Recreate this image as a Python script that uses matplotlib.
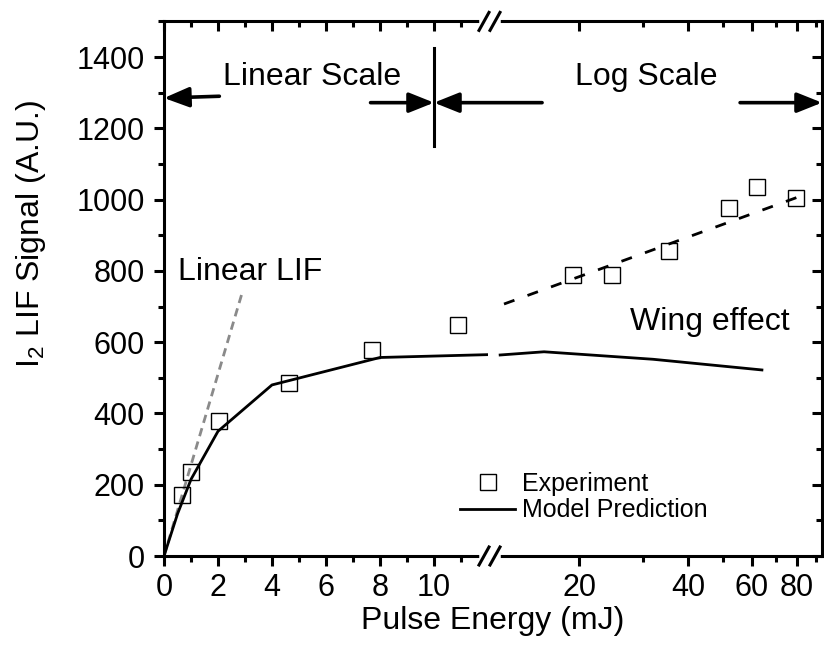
import numpy as np
import matplotlib
matplotlib.use('Agg')
from matplotlib import pyplot as plt
from matplotlib.lines import Line2D
from matplotlib.ticker import FixedLocator, NullFormatter

plt.rcParams['font.family'] = ['Liberation Sans', 'DejaVu Sans']
plt.rcParams['mathtext.fontset'] = 'custom'
plt.rcParams['mathtext.rm'] = 'Liberation Sans'
plt.rcParams['mathtext.it'] = 'Liberation Sans'

# measured LIF signal, linear part (0-12 mJ) and log part (>12 mJ)
exp_lin_x = [0.68, 0.99, 2.04, 4.63, 7.72, 10.9]
exp_lin_y = [170, 237, 378, 486, 577, 648]
exp_log_x = [19.2, 24.7, 35.5, 52.0, 61.9, 79.4]
exp_log_y = [789, 789, 857, 977, 1036, 1005]

# model prediction
model_lin_x = [0, 0.5, 1, 2, 4, 8, 12]
model_lin_y = [0, 118, 215, 350, 480, 557, 565]
model_log_x = [12.1, 16, 32, 64]
model_log_y = [564, 573, 552, 522]

# linear LIF reference line and wing-effect trend
lif_x = [0, 2.9]
lif_y = [0, 740]
wing_x = [12.4, 83]
wing_y = [707, 1012]

lin_ticks = [0, 2, 4, 6, 8, 10]
lin_minor = [1, 3, 5, 7, 9, 11]
log_ticks = [20, 40, 60, 80]
log_minor = [30, 50, 70, 90]
y_ticks = list(range(0, 1401, 200))
y_minor = list(range(100, 1501, 200))

W, H = 824, 645
fig = plt.figure(figsize=(W / 100, H / 100), dpi=100)
x0, xb, x1 = 164, 488, 822
ybot, ytop = 556, 21.4
axL = fig.add_axes([x0 / W, 1 - ybot / H, (xb - x0) / W, (ybot - ytop) / H])
axR = fig.add_axes([xb / W, 1 - ybot / H, (x1 - xb) / W, (ybot - ytop) / H])

axL.set_xlim(0, 12)
axR.set_xscale('log')
axR.set_xlim(11.2, 93.8)
for ax in (axL, axR):
    ax.set_ylim(0, 1500)
    ax.set_facecolor('none')
    for s in ax.spines.values():
        s.set_linewidth(2.2)
axL.spines['right'].set_visible(False)
axR.spines['left'].set_visible(False)

# ticks
axL.xaxis.set_major_locator(FixedLocator(lin_ticks))
axL.xaxis.set_minor_locator(FixedLocator(lin_minor))
axR.xaxis.set_major_locator(FixedLocator(log_ticks))
axR.xaxis.set_minor_locator(FixedLocator(log_minor))
axR.xaxis.set_major_formatter(plt.FixedFormatter([str(t) for t in log_ticks]))
axR.xaxis.set_minor_formatter(NullFormatter())
for ax in (axL, axR):
    ax.yaxis.set_major_locator(FixedLocator(y_ticks))
    ax.yaxis.set_minor_locator(FixedLocator(y_minor))
    ax.tick_params(axis='x', which='both', bottom=True, top=False, direction='out',
                   labelsize=22, pad=5)
    ax.tick_params(axis='both', which='major', length=7, width=2.2)
    ax.tick_params(axis='both', which='minor', length=4, width=2.2)
    ax.xaxis.set_ticks_position('both')
    ax.tick_params(axis='x', which='both', top=True)

# top ticks point inward, bottom outward
for ax in (axL, axR):
    for t in ax.xaxis.get_major_ticks() + ax.xaxis.get_minor_ticks():
        t.tick2line.set_marker(3)

axL.tick_params(axis='y', which='both', left=True, right=False, direction='out',
                labelsize=22, pad=7)
axR.tick_params(axis='y', which='both', left=False, right=True, labelleft=False,
                labelright=False, direction='in')

# data
axL.plot(lif_x, lif_y, color='#8a8a8a', lw=2.0, dashes=(3, 2), zorder=2)
axL.plot(model_lin_x, model_lin_y, color='black', lw=2.0, zorder=3)
axR.plot(model_log_x, model_log_y, color='black', lw=2.0, zorder=3)
axR.plot(wing_x, wing_y, color='black', lw=2.0, dashes=(4, 5), zorder=3)
mk = dict(ls='none', marker='s', ms=11, mfc='none', mec='black', mew=1.0, zorder=4)
axL.plot(exp_lin_x, exp_lin_y, **mk)
axR.plot(exp_log_x, exp_log_y, **mk)

# scale annotations
axL.plot([10, 10], [1150, 1425], color='black', lw=2.2, clip_on=False)
arr = dict(arrowstyle='-|>,head_length=0.8,head_width=0.32', mutation_scale=19,
           lw=2.6, color='black', shrinkA=0, shrinkB=0)
axL.annotate('', xy=(0, 1285), xytext=(2.05, 1290), arrowprops=arr, annotation_clip=False)
axL.annotate('', xy=(10, 1272), xytext=(7.65, 1272), arrowprops=arr, annotation_clip=False)
axL.annotate('', xy=(10, 1272), xytext=(15.8, 1272), textcoords=axR.transData,
             arrowprops=arr, annotation_clip=False)
axR.annotate('', xy=(93.8, 1272), xytext=(55.7, 1272), arrowprops=arr, annotation_clip=False)

axL.text(2.2, 1322, 'Linear Scale', fontsize=23, ha='left', va='baseline')
axR.text(19.5, 1322, 'Log Scale', fontsize=23, ha='left', va='baseline')
axR.text(27.7, 634, 'Wing effect', fontsize=23, ha='left', va='baseline')
axL.text(0.52, 774, 'Linear LIF', fontsize=23, ha='left', va='baseline')

# axis break marks
for yb in (ybot, ytop):
    yf = 1 - yb / H
    fig.add_artist(Line2D([482 / W, 498 / W], [yf, yf], color='white', lw=4,
                          transform=fig.transFigure, zorder=10))
    for xc in (484, 495):
        fig.add_artist(Line2D([(xc - 5) / W, (xc + 5) / W], [yf - 9 / H, yf + 9 / H],
                              color='black', lw=2.2, transform=fig.transFigure, zorder=11))

# legend
handles = [Line2D([], [], **mk),
           Line2D([], [], color='black', lw=2.0)]
fig.legend(handles, ['Experiment', 'Model Prediction'], loc='center left',
           bbox_to_anchor=(460 / W, 1 - 497 / H), frameon=False, fontsize=18,
           handlelength=2.2, handletextpad=0.3, labelspacing=0.1,
           borderpad=0, borderaxespad=0)

# axis labels
fig.text(493 / W, 1 - 629 / H, 'Pulse Energy (mJ)', fontsize=23, ha='center', va='baseline')
fig.text(39 / W, 1 - 234 / H, r'I$_{\mathregular{2}}$ LIF Signal (A.U.)', fontsize=23,
         rotation=90, rotation_mode='anchor', ha='center', va='baseline')

fig.savefig('out.png', dpi=100)
